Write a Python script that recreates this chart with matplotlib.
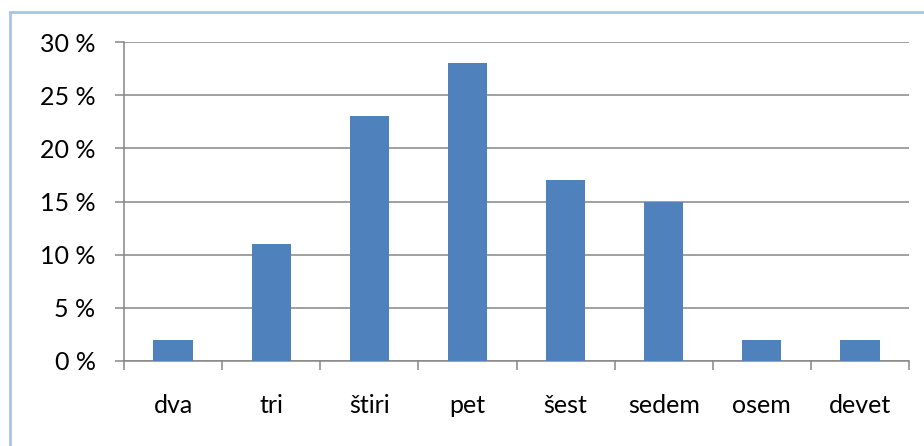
import numpy as np
import matplotlib.pyplot as plt
from matplotlib.patches import Rectangle

categories = ['dva', 'tri', 'štiri', 'pet', 'šest', 'sedem', 'osem', 'devet']
values = [2, 11, 23, 28, 17, 15, 2, 2]
yticks = [0, 5, 10, 15, 20, 25, 30]

plt.rcParams['font.family'] = ['Lato', 'DejaVu Sans']

fig = plt.figure(figsize=(9.24, 4.46), dpi=100)
ax = fig.add_axes([124/924, 85/446, 785/924, 319/446])

# outer chart border (light blue), cut off at the right and bottom
fig.patches.append(Rectangle((9.5/924, -0.05), 1.2, (434.5/446) + 0.05,
                             transform=fig.transFigure, fill=False,
                             edgecolor='#A7C3EB', linewidth=2))

x = np.arange(len(categories))
ax.bar(x, values, width=0.4, color='#4F81BD', zorder=3)

ax.set_xlim(-0.5, len(categories) - 0.5)
ax.set_ylim(0, 30)
ax.set_yticks(yticks)
ax.set_yticklabels([f'{v} %' for v in yticks])
ax.yaxis.grid(True, color='#868686', linewidth=1.1, zorder=0)

ax.set_xticks(np.arange(-0.5, len(categories)), labels=[])
ax.set_xticks(x, labels=categories, minor=True)

for s in ['top', 'right']:
    ax.spines[s].set_visible(False)
for s in ['left', 'bottom']:
    ax.spines[s].set_color('#868686')
    ax.spines[s].set_linewidth(1.1)

ax.tick_params(axis='y', length=6.5, width=1.1, color='#868686',
               pad=14, labelsize=18)
ax.tick_params(axis='x', which='major', length=6.5, width=1.1, color='#868686')
ax.tick_params(axis='x', which='minor', length=0, pad=24, labelsize=18)

fig.savefig('out.png', dpi=100)
